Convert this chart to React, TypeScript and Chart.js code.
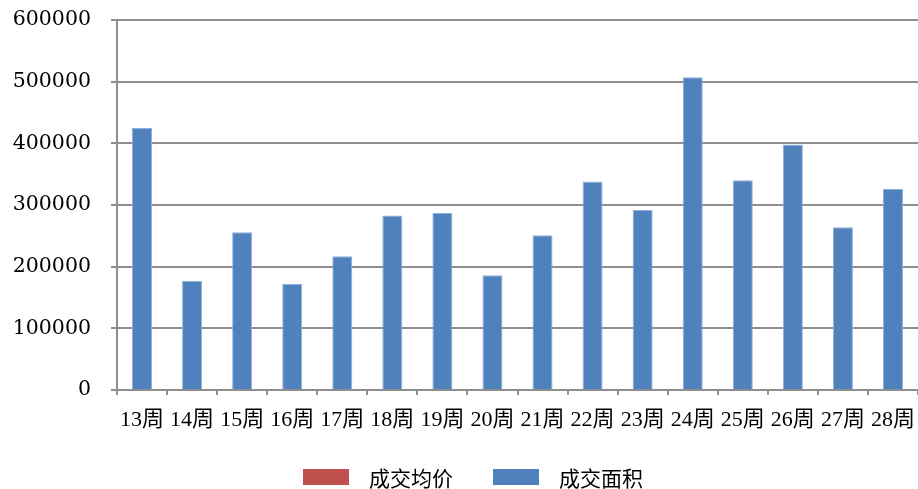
import React, { useEffect, useRef } from "react";
import { Chart, registerables } from "chart.js";

Chart.register(...registerables);

const weeks = ["13周", "14周", "15周", "16周", "17周", "18周", "19周", "20周", "21周", "22周", "23周", "24周", "25周", "26周", "27周", "28周"];
const dealArea = [425000, 177000, 256000, 172000, 217000, 283000, 287000, 186000, 251000, 338000, 292000, 507000, 340000, 398000, 264000, 326000];
const avgPrice: (number | null)[] = [];
const yTicks = [0, 100000, 200000, 300000, 400000, 500000, 600000];
const seriesNames = ["成交均价", "成交面积"];
const seriesColors = ["#C0504D", "#4F81BD"];

const GRID = "#8e8e8e";

export default function App() {
  const ref = useRef<HTMLCanvasElement | null>(null);

  useEffect(() => {
    if (!ref.current) return;
    const chart = new Chart(ref.current, {
      type: "bar",
      data: {
        labels: weeks,
        datasets: [
          {
            label: seriesNames[0],
            data: avgPrice,
            backgroundColor: seriesColors[0],
          },
          {
            label: seriesNames[1],
            data: dealArea,
            backgroundColor: seriesColors[1],
            borderColor: "#8eaedb",
            borderWidth: 1,
          },
        ],
      },
      options: {
        responsive: false,
        animation: false,
        datasets: { bar: { grouped: false, categoryPercentage: 0.8, barPercentage: 0.5 } },
        layout: { padding: { top: 20, left: 0, right: 0, bottom: 0 } },
        plugins: {
          legend: { display: false },
          tooltip: { enabled: false },
        },
        scales: {
          x: {
            afterFit: (s: any) => {
              s.height = 50;
              s.paddingLeft = 0;
              s.paddingRight = 0;
            },
            grid: {
              drawOnChartArea: false,
              drawTicks: true,
              tickLength: 5,
              color: GRID,
              lineWidth: 2,
            },
            border: { color: GRID, width: 2 },
            ticks: {
              color: "#000",
              padding: 12,
              maxRotation: 0,
              autoSkip: false,
              font: { family: "'Liberation Serif', 'Noto Sans CJK SC', serif", size: 22 },
            },
          },
          y: {
            min: 0,
            max: 600000,
            afterFit: (s: any) => {
              s.width = 117;
              s.paddingTop = 0;
              s.paddingBottom = 0;
            },
            afterBuildTicks: (s: any) => {
              s.ticks = yTicks.map((v) => ({ value: v }));
            },
            grid: {
              color: GRID,
              lineWidth: 2,
              drawTicks: true,
              tickLength: 6,
            },
            border: { color: GRID, width: 2 },
            ticks: {
              color: "#000",
              padding: 20,
              callback: (v: any) => String(v),
              font: { family: "'DejaVu Serif', serif", size: 20.5 },
            },
          },
        },
      },
    });
    return () => chart.destroy();
  }, []);

  const legendText: React.CSSProperties = {
    position: "absolute",
    top: 465,
    fontFamily: "'Noto Sans CJK SC', sans-serif",
    fontSize: 21,
    lineHeight: "24px",
    color: "#000",
    whiteSpace: "nowrap",
  };

  return (
    <div style={{ position: "fixed", left: 0, top: 0, width: 918, height: 489, background: "#fff" }}>
      <canvas ref={ref} width={918} height={440} style={{ position: "absolute", left: 0, top: 0, width: 918, height: 440 }} />
      <div style={{ position: "absolute", left: 303, top: 469, width: 46, height: 16, background: seriesColors[0] }} />
      <div style={{ ...legendText, left: 369 }}>{seriesNames[0]}</div>
      <div style={{ position: "absolute", left: 493, top: 469, width: 46, height: 16, background: seriesColors[1] }} />
      <div style={{ ...legendText, left: 559 }}>{seriesNames[1]}</div>
    </div>
  );
}
